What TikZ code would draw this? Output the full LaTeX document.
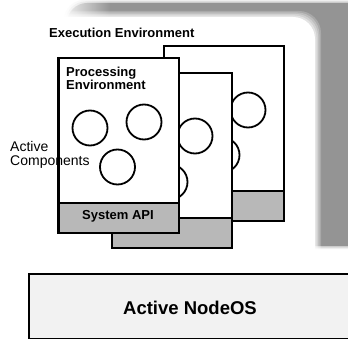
\documentclass[tikz,border=0pt]{standalone}
\usepackage{fontspec}
\setmainfont{Liberation Sans}
\usetikzlibrary{fadings}
\tikzfading[name=fadeR, left color=transparent!0, right color=transparent!100]
\begin{document}
\begin{tikzpicture}[x=1pt,y=-1pt,
 frame/.style={draw=black, line width=2.3pt, fill=white, minimum width=120pt, minimum height=175pt, inner sep=0pt, anchor=north west},
 band/.style={draw=black, line width=2.3pt, fill=black!28, minimum width=120pt, minimum height=30pt, inner sep=0pt, anchor=south},
 comp/.style={circle, draw=black, line width=1.8pt, minimum size=35pt, inner sep=0pt},
 lbl/.style={font=\fontsize{13}{13}\selectfont\bfseries, inner sep=0pt},
 plain/.style={font=\fontsize{14}{14}\selectfont, inner sep=0pt},
]
\useasboundingbox (0,0) rectangle (348,339);
\clip (0,0) rectangle (348,339);
% execution environment background (gray top/right band)
\foreach \d/\o in {3/0.15, 1.5/0.3}{
  \fill[black!42, opacity=\o, rounded corners=20pt] (67-\d,3-\d) rectangle (375+\d,246+\d);
}
\fill[black!42, rounded corners=20pt] (67,3) rectangle (375,246);
\foreach \d/\o in {6/0.2, 4.5/0.25, 3/0.3, 1.5/0.4}{
  \fill[white, opacity=\o, rounded corners=22pt] (30-\d,17-\d) rectangle (315+\d,280+\d);
}
\fill[white, rounded corners=22pt] (30,17) rectangle (315,280);
\fill[white, path fading=fadeR] (58,-2) rectangle (110,22);

\node[lbl, anchor=base west] (ee) at (49,38) {Execution Environment};

% back processing environment
\node[frame] (back) at (163,45) {};
\node[band] (backapi) at (back.south) {};
\node[comp] (b1) at (248,110) {};
\node[comp] (b2) at (222,155) {};

% middle processing environment
\node[frame] (mid) at (111,72) {};
\node[band] (midapi) at (mid.south) {};
\node[comp] (m1) at (195,136) {};
\node[comp] (m2) at (170,182) {};

% front processing environment
\node[frame] (front) at (58,57) {};
\node[band] (frontapi) at (front.south) {};
\node[lbl, anchor=base] (api) at (118,220) {System API};
\node[lbl, anchor=base west] (pe1) at (66,77) {Processing};
\node[lbl, anchor=base west] (pe2) at (66,90) {Environment};
\node[comp] (f1) at (90,128) {};
\node[comp] (f2) at (144,122) {};
\node[comp] (f3) at (117.5,167) {};

\node[plain, anchor=base west] (ac1) at (10,152) {Active};
\node[plain, anchor=base west] (ac2) at (10,166) {Components};
\draw[line width=2.3pt] (front.north west) -- (front.south west);

% Active NodeOS
\node[draw=black, line width=2.3pt, fill=black!5, minimum width=340pt, minimum height=65pt, inner sep=0pt, anchor=north west] (nos) at (28,273) {};
\node[font=\fontsize{18.5}{18.5}\selectfont\bfseries, inner sep=0pt, anchor=base] (nostext) at (190,314) {Active NodeOS};
\end{tikzpicture}
\end{document}
